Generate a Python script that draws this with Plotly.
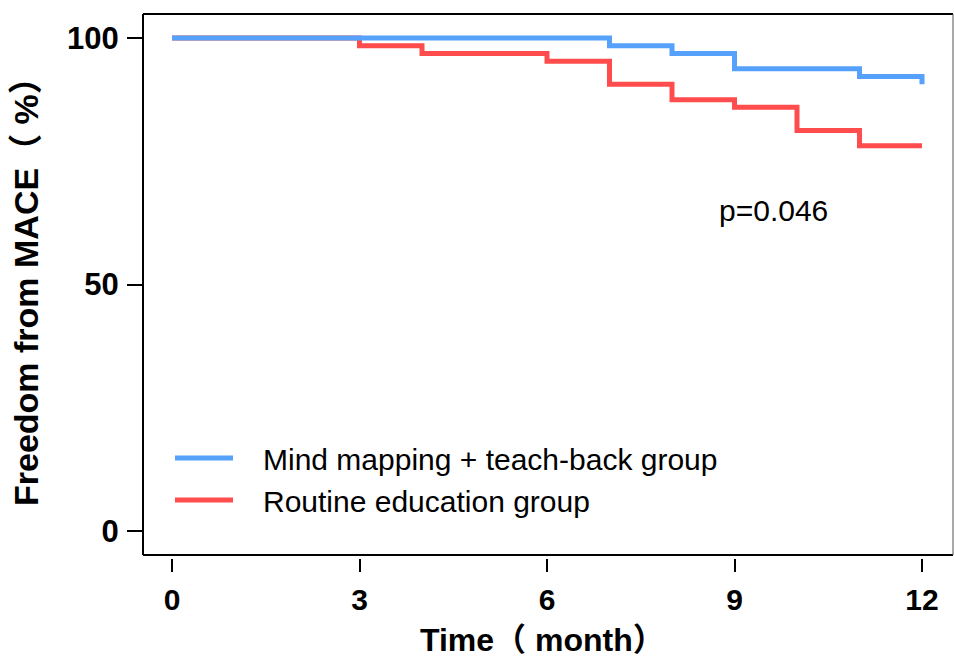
import plotly.graph_objects as go

# Data
mind_time = [0, 7, 8, 9, 11, 12]
mind_surv = [100, 98.44, 96.88, 93.75, 92.19, 90.63]
routine_time = [0, 3, 4, 6, 7, 8, 9, 10, 11, 12]
routine_surv = [100, 98.44, 96.88, 95.31, 90.63, 87.5, 85.94, 81.25, 78.13, 78.13]
x_ticks = [0, 3, 6, 9, 12]
y_ticks = [0, 50, 100]
mind_name = "Mind mapping + teach-back group"
routine_name = "Routine education group"
p_label = "p=0.046"
p_pos = (9.63, 65.1)

BLUE = "#55A1FB"
RED = "#FF4C4C"
FONT = "Liberation Sans, Arial, Noto Sans CJK SC, sans-serif"
PAD = "\u00a0\u00a0\u00a0"

fig = go.Figure()
fig.add_trace(go.Scatter(
    x=routine_time, y=routine_surv, mode="lines", line_shape="hv",
    line=dict(color=RED, width=5), name=PAD + routine_name, legendrank=2))
fig.add_trace(go.Scatter(
    x=mind_time, y=mind_surv, mode="lines", line_shape="hv",
    line=dict(color=BLUE, width=5), name=PAD + mind_name, legendrank=1))

W, H = 954, 658
ml, mr, mt, mb = 143, 1, 14, 100
ph = H - mt - mb
pw = W - ml - mr

fig.update_layout(
    width=W, height=H,
    margin=dict(l=ml, r=mr, t=mt, b=mb),
    paper_bgcolor="white", plot_bgcolor="white",
    font=dict(family=FONT, color="black"),
    showlegend=True,
    legend=dict(x=(170 - ml) / pw, y=(H - mb - 479) / ph, xanchor="left", yanchor="middle",
                bgcolor="rgba(0,0,0,0)", font=dict(size=30, family=FONT),
                itemwidth=58, tracegroupgap=0),
    xaxis=dict(range=[-0.464, 12.496], tickvals=x_ticks, ticks="outside",
               ticklen=13, tickwidth=2, tickcolor="black", showgrid=False,
               zeroline=False, showline=False, anchor="free", position=0,
               tickfont=dict(size=30, family=FONT, weight="bold"),
               ticklabelstandoff=2),
    yaxis=dict(range=[-4.87, 104.87], tickvals=y_ticks, ticks="outside",
               ticklen=15, tickwidth=2, tickcolor="black", showgrid=False,
               zeroline=False, showline=False, domain=[3 / ph, 1],
               tickfont=dict(size=31, family=FONT, weight="bold"),
               ticklabelstandoff=2),
)

# frame
fig.add_shape(type="line", xref="x domain", yref="y domain", x0=0, x1=0, y0=0, y1=1,
              line=dict(color="black", width=2))
fig.add_shape(type="line", xref="x domain", yref="y domain", x0=0, x1=1, y0=0, y1=0,
              line=dict(color="black", width=2))
fig.add_shape(type="line", xref="x domain", yref="y domain", x0=0, x1=1, y0=1, y1=1,
              line=dict(color="black", width=2))
fig.add_shape(type="line", xref="x domain", yref="y domain", x0=1, x1=1, y0=0, y1=1,
              line=dict(color="#555555", width=1))

fig.add_annotation(x=p_pos[0], y=p_pos[1], xref="x", yref="y", text=p_label,
                   showarrow=False, xanchor="center", yanchor="middle",
                   font=dict(size=30, family=FONT))
fig.add_annotation(x=(542 - ml) / pw, y=(H - mb - 640) / ph, xref="paper", yref="paper",
                   text="Time（ month）", showarrow=False, xanchor="center", yanchor="middle",
                   font=dict(size=32, family=FONT, weight="bold"))
fig.add_annotation(x=(26 - ml) / pw, y=(H - mb - 283) / ph, xref="paper", yref="paper",
                   text="Freedom from MACE（ %）", showarrow=False, textangle=-90,
                   xanchor="center", yanchor="middle",
                   font=dict(size=34, family=FONT, weight="bold"))

fig.write_html("out.html", config={"displayModeBar": False},
               post_script="document.body.style.margin='0';")
